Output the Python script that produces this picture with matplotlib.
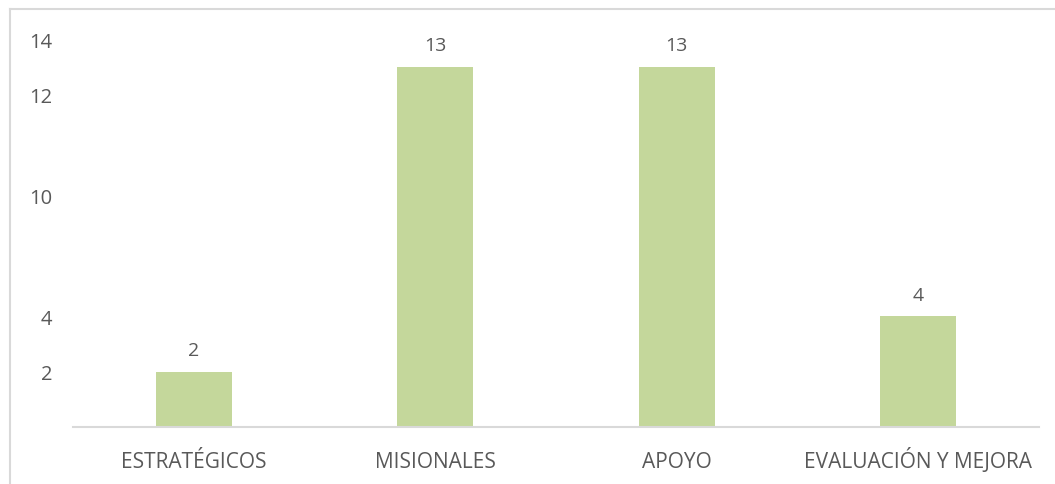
import matplotlib
matplotlib.use("Agg")
import matplotlib.pyplot as plt
from matplotlib.lines import Line2D

categories = ["ESTRATÉGICOS", "MISIONALES", "APOYO", "EVALUACIÓN Y MEJORA"]
values = [2, 13, 13, 4]
tick_positions = [2, 4, 8.35, 12, 14]
tick_labels = ["2", "4", "10", "12", "14"]

W, H = 1055, 485
fig = plt.figure(figsize=(W / 100, H / 100), dpi=100)
plt.rcParams['font.family'] = ['Open Sans', 'DejaVu Sans']

left, right, bottom, top = 73, 1039, 428, 30
ax = fig.add_axes([left / W, (H - bottom) / H, (right - left) / W, (bottom - top) / H])

text_color = "#595959"
bar_color = "#C4D79B"
line_color = "#D9D9D9"

x = range(len(categories))
bars = ax.bar(x, values, width=0.315, color=bar_color)
ax.set_xlim(-0.5, len(categories) - 0.5)
ax.set_ylim(0, 14.37)

for xi, v in zip(x, values):
    ax.annotate(str(v), (xi, v), xytext=(0, 9), textcoords="offset points",
                ha="center", va="bottom", fontsize=14, color=text_color)

ax.set_xticks(list(x))
ax.set_xticklabels(categories, fontsize=15, color=text_color)
for lbl in ax.get_xticklabels():
    lbl.set_va("baseline")
ax.set_yticks(tick_positions)
ax.set_yticklabels(tick_labels, fontsize=14.5, color=text_color)
ax.tick_params(axis="both", length=0)
ax.tick_params(axis="x", pad=29)
ax.tick_params(axis="y", pad=15)

for s in ["top", "right", "left"]:
    ax.spines[s].set_visible(False)
ax.spines["bottom"].set_color(line_color)
ax.spines["bottom"].set_linewidth(1.5)

# outer frame (left and top edges)
fig.add_artist(Line2D([10 / W, 10 / W], [0, 1 - 10 / H], transform=fig.transFigure,
                      color=line_color, linewidth=1.5))
fig.add_artist(Line2D([10 / W, 1], [1 - 10 / H, 1 - 10 / H], transform=fig.transFigure,
                      color=line_color, linewidth=1.5))

fig.savefig("out.png", dpi=100)
